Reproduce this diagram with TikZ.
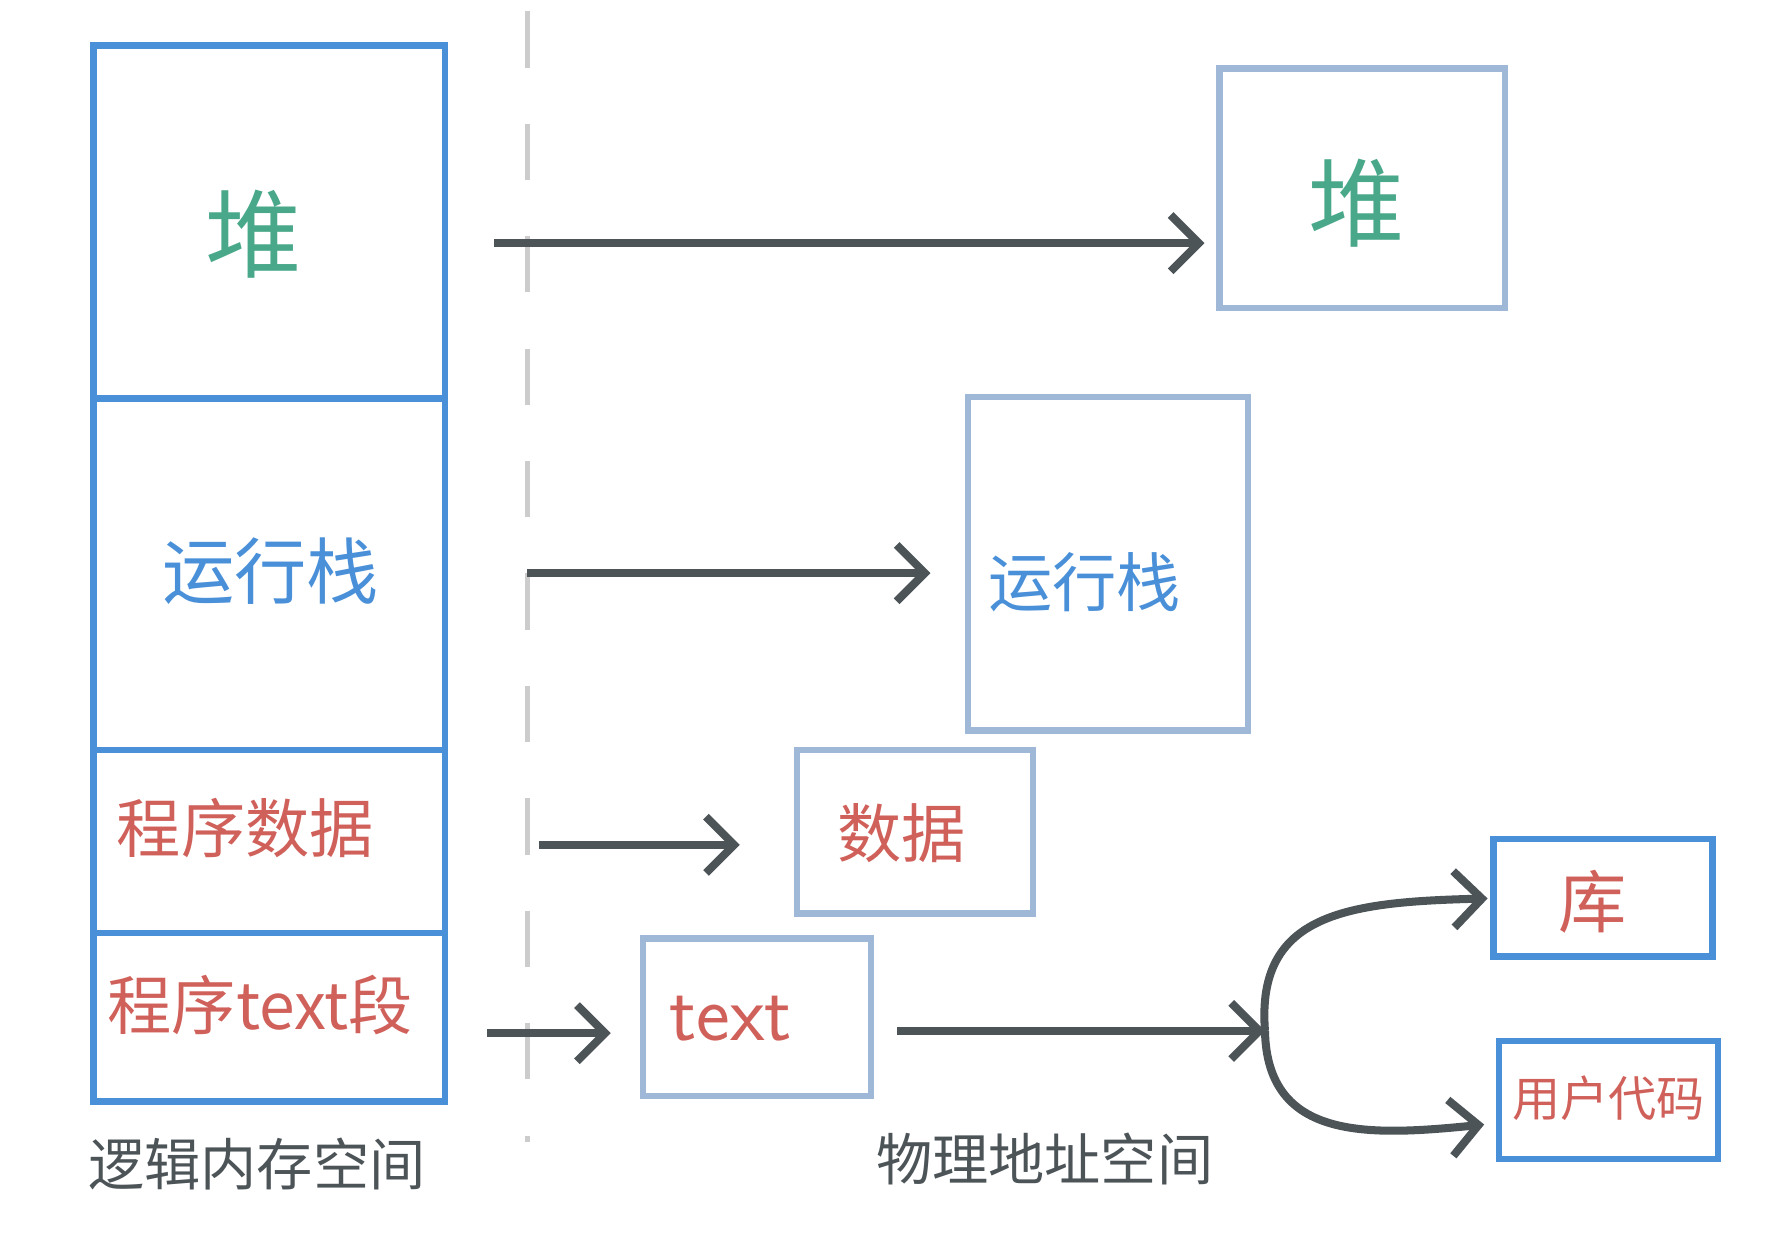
\documentclass[tikz,border=0pt]{standalone}
\usepackage{fontspec}
\newfontfamily\cjk{Noto Sans CJK SC}
\usetikzlibrary{arrows.meta}
\definecolor{bbl}{HTML}{4A90D9}
\definecolor{lbl}{HTML}{A0B8D8}
\definecolor{grn}{HTML}{4AA88A}
\definecolor{rd}{HTML}{D0605A}
\definecolor{dk}{HTML}{4C5458}
\begin{document}
\begin{tikzpicture}[x=0.01cm,y=-0.01cm,
  lbox/.style={draw=lbl,line width=1.6pt},
  bbox/.style={draw=bbl,line width=1.6pt},
  arr/.style={draw=dk,line width=2pt,-{Straight Barb[length=7pt,width=14pt]}},
  lab/.style={font=\cjk}]
\useasboundingbox (0,0) rectangle (1560,1092);
\draw[bbox] (82,40) rectangle (390,965);
\draw[bbox] (82,349) -- (390,349) (82,657) -- (390,657) (82,817) -- (390,817);
\node[lab,text=grn,font=\cjk\fontsize{24}{24}\selectfont] (h1) at (222,205) {堆};
\node[lab,text=bbl,font=\cjk\fontsize{18}{18}\selectfont] (s1) at (237,500) {运行栈};
\node[lab,text=rd,font=\cjk\fontsize{16}{16}\selectfont] (d1) at (215,725) {程序数据};
\node[lab,text=rd,font=\cjk\fontsize{16}{16}\selectfont] (t1) at (228,880) {程序text段};
\draw[draw=gray!40,line width=1.3pt,dash pattern=on 14pt off 14pt] (462,10) -- (462,1000);
\draw[lbox] (1068,60) rectangle (1318,270);
\draw[lbox] (848,348) rectangle (1093,640);
\draw[lbox] (698,657) rectangle (905,800);
\draw[lbox] (563,822) rectangle (763,960);
\draw[bbox] (1308,735) rectangle (1500,838);
\draw[bbox] (1313,912) rectangle (1505,1015);
\node[lab,text=grn,font=\cjk\fontsize{24}{24}\selectfont] (h2) at (1188,178) {堆};
\node[lab,text=bbl,font=\cjk\fontsize{16}{16}\selectfont] (s2) at (950,510) {运行栈};
\node[lab,text=rd,font=\cjk\fontsize{16}{16}\selectfont] (d2) at (790,730) {数据};
\node[text=rd,font=\sffamily\fontsize{20}{20}\selectfont] (t2) at (640,892) {text};
\node[lab,text=rd,font=\cjk\fontsize{17}{17}\selectfont] (k) at (1395,790) {库};
\node[lab,text=rd,font=\cjk\fontsize{12}{12}\selectfont] (u) at (1409,962) {用户代码};
\coordinate (a1) at (433,213); \coordinate (b1) at (1055,213);
\coordinate (a2) at (462,502); \coordinate (b2) at (815,502);
\coordinate (a3) at (472,740); \coordinate (b3) at (648,740);
\coordinate (a4) at (427,905); \coordinate (b4) at (535,905);
\coordinate (a5) at (786,903); \coordinate (b5) at (1108,903);
\coordinate (c1) at (1303,787); \coordinate (c2) at (1300,985);
\draw[arr] (a1) -- (b1);
\draw[arr] (a2) -- (b2);
\draw[arr] (a3) -- (b3);
\draw[arr] (a4) -- (b4);
\draw[arr] (a5) -- (b5);
\draw[arr] (b5) .. controls (1100,800) and (1180,790) .. (c1);
\draw[arr] (b5) .. controls (1110,1000) and (1200,995) .. (c2);
\node[lab,text=dk,font=\cjk\fontsize{14}{14}\selectfont] (L) at (225,1020) {逻辑内存空间};
\node[lab,text=dk,font=\cjk\fontsize{14}{14}\selectfont] (P) at (915,1015) {物理地址空间};
\end{tikzpicture}
\end{document}
